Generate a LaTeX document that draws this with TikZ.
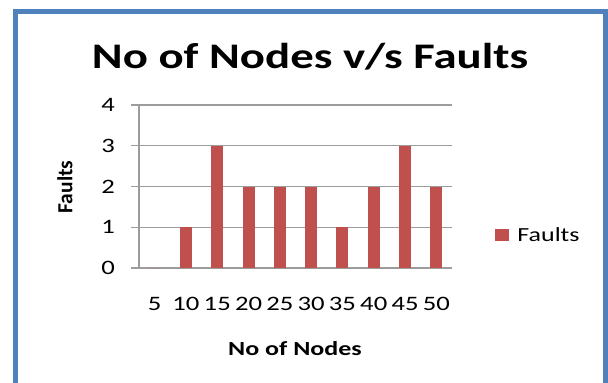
\documentclass[tikz,border=0pt]{standalone}
\usepackage{fontspec}
\setmainfont{Carlito}
\newfontfamily\chartfont[FakeStretch=1.3]{Carlito}
\usetikzlibrary{positioning}
\definecolor{frameblue}{HTML}{4F81BD}
\definecolor{barred}{HTML}{C0504D}
\definecolor{gridgray}{HTML}{9C9C9C}

\tikzset{
    gridline/.style={draw=gridgray, line width=1.2pt},
    bar/.style={fill=barred, draw=none},
    ticklabel/.style={font=\chartfont\fontsize{20.5}{20.5}\selectfont, inner sep=0pt},
    axistitle/.style={font=\chartfont\bfseries\fontsize{20}{20}\selectfont, inner sep=0pt}
}

\begin{document}
\begin{tikzpicture}[x=1pt,y=-1pt]
\newcommand{\plotleft}{139}
\newcommand{\plotright}{452}
\newcommand{\plotbase}{268}
\newcommand{\unitheight}{40.75}
\newcommand{\catwidth}{31.3}
\newcommand{\barhalf}{6}

\useasboundingbox (0,0) rectangle (608,383);

% frame, open at the bottom
\draw[frameblue, line width=5pt] (15.5,383) -- (15.5,11) -- (605.5,11) -- (605.5,383);

\node[font=\chartfont\bfseries\fontsize{36}{36}\selectfont, anchor=base, inner sep=0pt] (title) at (310,68) {No of Nodes v/s Faults};

\foreach \v in {0,1,...,4}
{
    \draw[gridline] (\plotleft-8,\plotbase-\v*\unitheight) -- (\plotright,\plotbase-\v*\unitheight);
    \node[ticklabel, anchor=east] (yl\v) at (\plotleft-24,\plotbase-\v*\unitheight) {\v};
}
\draw[gridline] (\plotleft,\plotbase) -- (\plotleft,\plotbase-4*\unitheight);

\foreach \v [count=\i from 0] in {0,1,3,2,2,2,1,2,3,2}
{
    \fill[bar] (\plotleft+\catwidth*\i+\catwidth/2-\barhalf,\plotbase) rectangle ++(2*\barhalf,-\v*\unitheight);
}

\foreach \n [count=\i from 0] in {5,10,...,50}
{
    \node[ticklabel, anchor=base] (xl\n) at (\plotleft+\catwidth*\i+\catwidth/2,310) {\n};
}

\node[axistitle, anchor=base] (xtitle) at (295,355) {No of Nodes};
\node[font=\bfseries\fontsize{21.5}{21.5}\selectfont, inner sep=0pt, rotate=90] (ytitle) at (65,187) {Faults};

% legend
\node[bar, minimum width=14pt, minimum height=12pt, inner sep=0pt] (key) at (502,235) {};
\node[font=\chartfont\fontsize{20}{20}\selectfont, inner sep=0pt, right=8pt of key] (keytext) {Faults};

\end{tikzpicture}
\end{document}
